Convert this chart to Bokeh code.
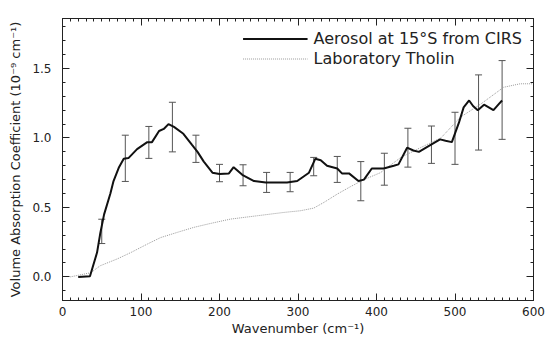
from bokeh.plotting import figure
from bokeh.models import (Range1d, LinearAxis, SingleIntervalTicker, Whisker, TeeHead,
                          ColumnDataSource, Legend, LegendItem, PrintfTickFormatter)
from bokeh.embed import file_html
from bokeh.resources import INLINE

# Aerosol at 15°S from CIRS (wavenumber cm^-1, 1e-9 cm^-1)
aer_x = [20, 35, 44, 48, 53, 61, 65, 72, 78, 84, 95, 108, 114, 123, 129, 135, 142, 154,
         165, 172, 180, 191, 200, 212, 218, 229, 244, 259, 273, 286, 299, 314, 322, 329,
         337, 350, 356, 365, 377, 384, 394, 409, 422, 428, 439, 447, 454, 469, 481, 488,
         496, 505, 511, 518, 523, 529, 537, 543, 549, 556, 560]
aer_y = [0.0, 0.005, 0.175, 0.31, 0.45, 0.60, 0.69, 0.79, 0.85, 0.855, 0.92, 0.97, 0.97,
         1.05, 1.065, 1.10, 1.08, 1.03, 0.95, 0.90, 0.83, 0.75, 0.74, 0.745, 0.79, 0.735,
         0.69, 0.68, 0.68, 0.68, 0.69, 0.75, 0.85, 0.84, 0.80, 0.78, 0.745, 0.745, 0.69,
         0.70, 0.78, 0.78, 0.80, 0.81, 0.93, 0.91, 0.90, 0.95, 0.99, 0.98, 0.97, 1.11,
         1.22, 1.27, 1.23, 1.20, 1.24, 1.22, 1.20, 1.245, 1.27]

# Error bars
err_x = [50, 80, 110, 140, 170, 200, 230, 260, 290, 320, 350, 380, 410, 440, 470, 500, 530, 560]
err_hi = [0.415, 1.02, 1.083, 1.257, 1.02, 0.81, 0.807, 0.752, 0.752, 0.86, 0.867, 0.83,
          0.89, 1.07, 1.086, 1.185, 1.454, 1.557]
err_lo = [0.24, 0.687, 0.853, 0.90, 0.824, 0.685, 0.656, 0.608, 0.613, 0.728, 0.68, 0.548,
          0.66, 0.79, 0.817, 0.81, 0.913, 0.99]

# Laboratory Tholin
th_x = [10, 36, 48, 70, 87, 108, 125, 146, 167, 188, 214, 248, 282, 303, 320, 333, 350,
        367, 384, 405, 431, 456, 482, 507, 533, 562, 583, 600]
th_y = [0.0, 0.03, 0.08, 0.13, 0.175, 0.236, 0.283, 0.32, 0.356, 0.384, 0.416, 0.44, 0.464,
        0.476, 0.495, 0.536, 0.596, 0.65, 0.70, 0.75, 0.86, 0.93, 1.00, 1.15, 1.245, 1.365,
        1.39, 1.39]

FONT = "DejaVu Sans"
TXT = "#222222"

p = figure(width=546, height=338, output_backend="svg", toolbar_location=None,
           x_range=Range1d(0, 600), y_range=Range1d(-0.17, 1.86),
           min_border_left=62, min_border_right=13, min_border_top=18, min_border_bottom=38,
           x_axis_label="Wavenumber (cm⁻¹)",
           y_axis_label="Volume Absorption Coefficient (10⁻⁹ cm⁻¹)")
p.grid.visible = False
p.outline_line_color = "#222222"
p.background_fill_color = "white"
p.border_fill_color = "white"

def style_axis(ax, labels=True):
    ax.axis_line_color = "#222222"
    ax.major_tick_line_color = "#222222"
    ax.minor_tick_line_color = "#222222"
    ax.major_tick_in = 7
    ax.major_tick_out = 0
    ax.minor_tick_in = 3
    ax.minor_tick_out = 0
    ax.major_label_text_font = FONT
    ax.axis_label_text_font = FONT
    ax.axis_label_text_color = TXT
    ax.axis_label_text_font_style = "normal"
    ax.axis_label_text_font_size = "13px"
    if labels:
        ax.major_label_text_font_size = "12px"
        ax.major_label_text_color = TXT
    else:
        ax.major_label_text_font_size = "1px"
        ax.major_label_text_color = None
        ax.major_label_text_alpha = 0
        ax.major_label_standoff = 0

p.xaxis.ticker = SingleIntervalTicker(interval=100, num_minor_ticks=10)
p.yaxis.ticker = SingleIntervalTicker(interval=0.5, num_minor_ticks=5)
p.yaxis.formatter = PrintfTickFormatter(format="%.1f")
style_axis(p.xaxis[0])
style_axis(p.yaxis[0])
p.xaxis.major_label_standoff = 6
p.xaxis.axis_label_standoff = 2
p.yaxis.major_label_standoff = 11
p.yaxis.axis_label_standoff = 6

rax = LinearAxis(ticker=SingleIntervalTicker(interval=0.5, num_minor_ticks=5))
tax = LinearAxis(ticker=SingleIntervalTicker(interval=100, num_minor_ticks=10))
style_axis(rax, labels=False)
style_axis(tax, labels=False)
p.add_layout(rax, "right")
p.add_layout(tax, "above")

th_r = p.line(th_x, th_y, line_color="#9a9a9a", line_width=1, line_dash="1 1")
aer_r = p.line(aer_x, aer_y, line_color="#111111", line_width=2)

src = ColumnDataSource(data=dict(x=err_x, hi=err_hi, lo=err_lo))
wk = Whisker(source=src, base="x", upper="hi", lower="lo", dimension="height",
             line_color="#555555", line_width=1,
             upper_head=TeeHead(size=7, line_color="#555555", line_width=1),
             lower_head=TeeHead(size=7, line_color="#555555", line_width=1))
p.add_layout(wk)

leg = Legend(items=[LegendItem(label="Aerosol at 15°S from CIRS", renderers=[aer_r]),
                    LegendItem(label="Laboratory Tholin", renderers=[th_r])],
             location="top_right", border_line_alpha=0, background_fill_alpha=0,
             glyph_width=65, glyph_height=15, label_standoff=6, spacing=1, padding=2,
             margin=9, label_text_font=FONT, label_text_font_size="16px",
             label_text_color=TXT, label_height=15)
p.add_layout(leg)

open("out.html", "w").write(file_html(p, INLINE))
